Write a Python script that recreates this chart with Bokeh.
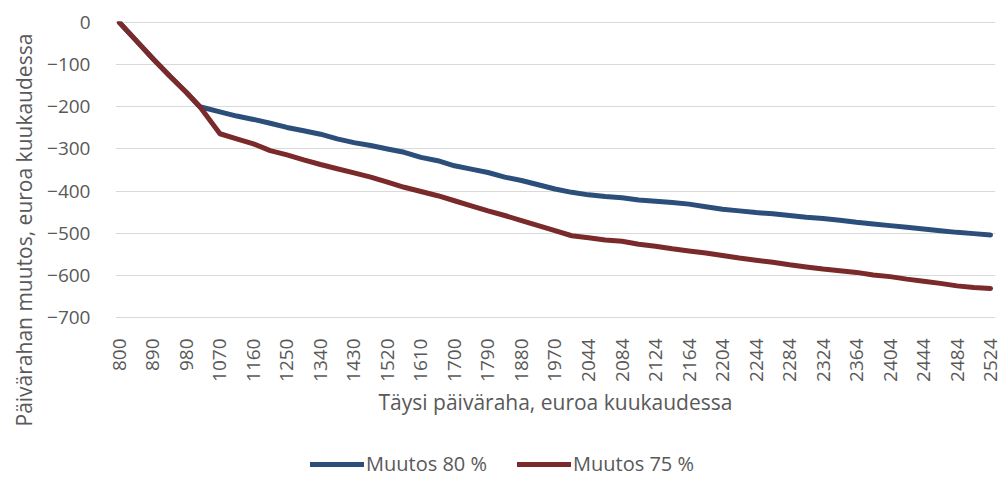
import numpy as np
from bokeh.plotting import figure
from bokeh.layouts import column
from bokeh.models import Legend, LegendItem, FixedTicker, Range1d, Title
from bokeh.embed import file_html
from bokeh.resources import INLINE

tick_labels = ["800", "890", "980", "1070", "1160", "1250", "1340", "1430", "1520",
               "1610", "1700", "1790", "1880", "1970", "2044", "2084", "2124", "2164",
               "2204", "2244", "2284", "2324", "2364", "2404", "2444", "2484", "2524"]

# positions along the category axis (index of tick label)
positions = [0, 0.5, 1, 1.5, 2, 2.4, 3, 3.5, 4, 4.5, 5, 5.5, 6, 6.5, 7, 7.5, 8, 8.5,
             9, 9.5, 10, 10.5, 11, 11.5, 12, 12.5, 13, 13.5, 14, 14.5, 15, 15.5, 16,
             16.5, 17, 17.5, 18, 18.5, 19, 19.5, 20, 20.5, 21, 21.5, 22, 22.5, 23,
             23.5, 24, 24.5, 25, 25.5, 26]

muutos_80 = [0, -43, -86, -127, -166, -200, -212, -222, -230, -239, -249, -257, -265,
             -276, -285, -292, -300, -308, -320, -328, -340, -348, -356, -367, -375,
             -385, -395, -403, -409, -413, -416, -421, -424, -427, -431, -437, -443,
             -447, -451, -454, -458, -462, -465, -469, -474, -478, -482, -486, -490,
             -494, -498, -501, -504]

muutos_75 = [0, -43, -86, -127, -166, -200, -264, -276, -288, -304, -314, -326, -337,
             -347, -357, -367, -379, -391, -401, -411, -423, -435, -447, -458, -470,
             -482, -494, -506, -511, -516, -519, -526, -531, -537, -542, -547, -553,
             -559, -564, -569, -575, -580, -585, -589, -593, -599, -603, -609, -614,
             -619, -625, -629, -631]

y_ticks = [0, -100, -200, -300, -400, -500, -600, -700]

FONT = "Open Sans"
TXT = "#595959"
BLUE = "#2C4E7B"
RED = "#7A2A2A"

p = figure(width=1000, height=440, output_backend="svg", toolbar_location=None,
           x_range=Range1d(-0.118, 26.148), y_range=Range1d(-702.4, 2.4),
           min_border_left=106, min_border_right=5, min_border_top=21, min_border_bottom=122)
p.outline_line_color = None

r80 = p.line(positions, muutos_80, line_color=BLUE, line_width=5, line_cap="round", line_join="round")
r75 = p.line(positions, muutos_75, line_color=RED, line_width=5, line_cap="round", line_join="round")

p.xgrid.visible = False
p.ygrid.grid_line_color = "#D9D9D9"
p.ygrid.grid_line_width = 1
p.ygrid.ticker = FixedTicker(ticks=y_ticks)

xa = p.xaxis[0]
xa.ticker = FixedTicker(ticks=list(range(len(tick_labels))))
xa.major_label_overrides = {i: t for i, t in enumerate(tick_labels)}
xa.major_label_orientation = np.pi / 2
xa.axis_label = "Täysi päiväraha, euroa kuukaudessa"
xa.major_label_standoff = 14
xa.axis_label_standoff = 3

ya = p.yaxis[0]
ya.ticker = FixedTicker(ticks=y_ticks)
ya.major_label_standoff = 19

for ax in (xa, ya):
    ax.axis_line_color = None
    ax.major_tick_line_color = None
    ax.minor_tick_line_color = None
    ax.major_label_text_font = FONT
    ax.major_label_text_font_size = "19px"
    ax.major_label_text_color = TXT
    ax.axis_label_text_font = FONT
    ax.axis_label_text_font_size = "21px"
    ax.axis_label_text_font_style = "normal"
    ax.axis_label_text_color = TXT

ytitle = Title(text="Päivärahan muutos, euroa kuukaudessa", align="left", offset=-108,
               text_font=FONT, text_font_size="21px", text_font_style="normal",
               text_color=TXT, standoff=14)
p.add_layout(ytitle, "left")

# legend row below the chart
lg = figure(width=1000, height=37, output_backend="svg", toolbar_location=None,
            x_range=Range1d(1000, 1001), y_range=Range1d(0, 1),
            x_axis_location=None, y_axis_location=None,
            min_border_left=0, min_border_right=0, min_border_top=0, min_border_bottom=0)
lg.grid.visible = False
lg.outline_line_color = None
l80 = lg.line(positions, muutos_80, line_color=BLUE, line_width=5, line_cap="round")
l75 = lg.line(positions, muutos_75, line_color=RED, line_width=5, line_cap="round")

legend = Legend(items=[LegendItem(label="Muutos 80 %", renderers=[l80]),
                       LegendItem(label="Muutos 75 %", renderers=[l75])],
                orientation="horizontal", location=(195, 0))
legend.label_text_font = FONT
legend.label_text_font_size = "20px"
legend.label_text_color = TXT
legend.glyph_width = 54
legend.glyph_height = 22
legend.label_standoff = 2
legend.spacing = 30
legend.border_line_color = None
legend.background_fill_alpha = 0
legend.padding = 0
legend.margin = 0
lg.add_layout(legend, "center")

layout = column(p, lg, spacing=0)
open("out.html", "w").write(file_html(layout, INLINE))
